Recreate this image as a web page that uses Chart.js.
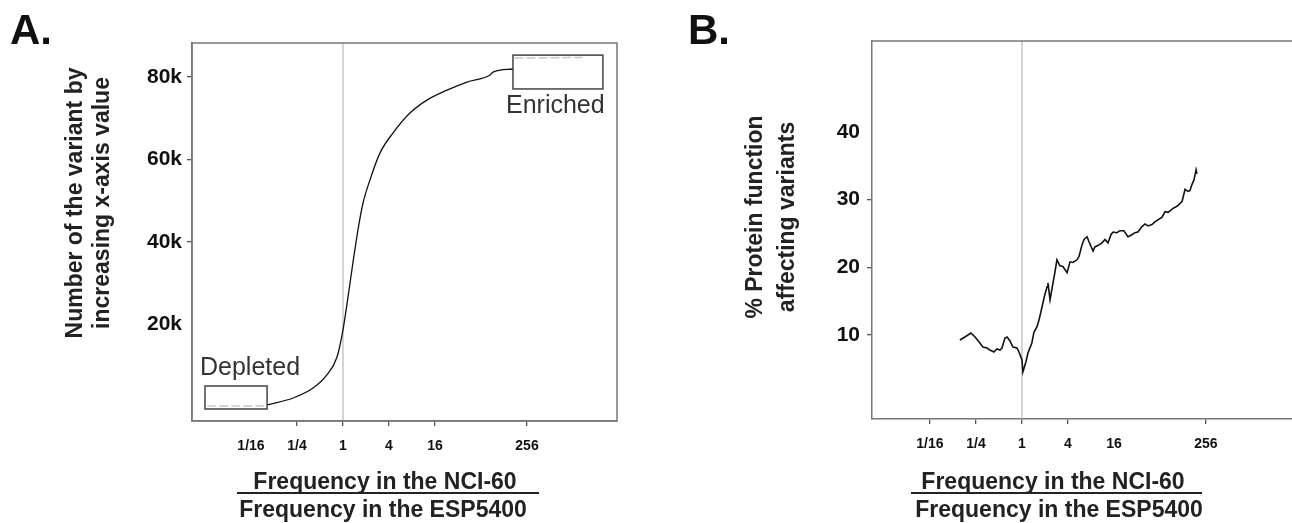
<!DOCTYPE html>
<html>
<head>
<meta charset="utf-8">
<script src="https://cdn.jsdelivr.net/npm/chart.js@4.4.1/dist/chart.umd.min.js"></script>
<style>
  html, body { margin: 0; padding: 0; background: #fff; }
  body { width: 1292px; height: 523px; overflow: hidden; position: relative; }
  .wrap { position: absolute; top: 0; height: 523px; }
  #wrapA { left: 0; width: 640px; }
  #wrapB { left: 660px; width: 632px; }
</style>
</head>
<body>
<div class="wrap" id="wrapA"><canvas id="chartA" width="640" height="523"></canvas></div>
<div class="wrap" id="wrapB"><canvas id="chartB" width="632" height="523"></canvas></div>
<script>
// x axis is log2(NCI-60 freq / ESP5400 freq)
xTickPos = [-4, -2, 0, 2, 4, 8];
xTickLabels = ['1/16', '1/4', '1', '4', '16', '256'];

// panel A: cumulative number of variants
aLog2Ratio = [-3.30, -2.17, -1.30, -0.70, -0.26, 0, 0.22, 0.43, 0.65, 0.87, 1.17, 1.61, 2.17, 2.91, 3.65, 4.52, 5.39, 6.39, 6.52, 7.39];
aCount = [485, 2180, 4600, 7760, 12100, 18700, 26700, 34900, 42900, 49450, 55000, 61600, 66400, 71270, 74400, 76800, 78770, 80500, 81200, 81940];
aDepletedX = [-5.9, -5.2, -4.6, -4.0, -3.35];
aDepletedY = [250, 250, 260, 260, 280];
aEnrichedX = [7.45, 8.2, 9.0, 9.8, 10.4];
aEnrichedY = [84600, 84600, 84650, 84700, 84700];
aYTickPos = [20000, 40000, 60000, 80000];
aYTickLabels = ['20k', '40k', '60k', '80k'];

// panel B: % protein function affecting variants
bLog2Ratio = [-2.70, -2.48, -2.22, -2.04, -1.83, -1.70, -1.52, -1.39, -1.22, -1.09, -0.96, -0.87, -0.74, -0.65, -0.52, -0.39, -0.22, -0.13, 0, 0.04,
  0.17, 0.26, 0.43, 0.52, 0.65, 0.74, 0.87, 0.96, 1.09, 1.13, 1.22, 1.35, 1.43, 1.52, 1.65, 1.78, 1.96, 2.09, 2.22, 2.39,
  2.48, 2.61, 2.70, 2.83, 2.91, 3.09, 3.17, 3.30, 3.48, 3.61, 3.74, 3.87, 3.96, 4.13, 4.26, 4.43, 4.61, 4.78, 4.91, 5.04,
  5.22, 5.35, 5.48, 5.65, 5.78, 5.91, 6.09, 6.22, 6.35, 6.57, 6.74, 6.96, 7.09, 7.22, 7.30, 7.39, 7.48, 7.57, 7.61];
bPercent = [9.27, 9.70, 10.3, 9.70, 8.82, 8.23, 8.08, 7.78, 7.49, 7.93, 7.78, 8.08, 9.56, 9.70, 9.11, 8.23, 8.08, 7.49, 6.31, 4.54,
  6.02, 7.35, 8.82, 10.4, 11.2, 12.2, 14.1, 15.5, 17.1, 17.7, 15.2, 17.7, 19.2, 21.1, 20.2, 20.1, 19.2, 20.8, 20.7, 21.1,
  21.6, 23.3, 24.1, 24.5, 23.8, 22.4, 23.0, 23.2, 23.6, 24.1, 23.6, 24.8, 25.2, 25.1, 25.4, 25.4, 24.5, 24.8, 25.1, 25.2,
  26.0, 26.4, 26.1, 26.3, 26.7, 27.0, 27.4, 28.2, 28.1, 28.7, 29.0, 29.7, 31.5, 31.2, 31.3, 32.2, 32.9, 34.4, 33.8];
bYTickPos = [10, 20, 30, 40];
bYTickLabels = ['10', '20', '30', '40'];

Chart.defaults.font.family = "'Liberation Sans', Arial, sans-serif";
Chart.defaults.color = '#111';
Chart.defaults.animation = false;

function pts(xs, ys) {
    return xs.map((x, i) => ({x: x, y: ys[i]}));
}

// hide the tick mark for one value (the original skips some)
function tickColor(skip) {
    return (ctx) => (ctx.tick && ctx.tick.value === skip) ? 'rgba(0,0,0,0)' : '#555';
}

function xAxis(min, max, height, skip) {
    return {
        type: 'linear', min: min, max: max,
        afterBuildTicks: (s) => { s.ticks = xTickPos.map(v => ({value: v})); },
        afterFit: (s) => { s.height = height; },
        ticks: {
            autoSkip: false, maxRotation: 0, padding: 12,
            font: {size: 14, weight: 'bold'},
            callback: (v) => xTickLabels[xTickPos.indexOf(v)]
        },
        grid: {drawOnChartArea: false, tickLength: 5, color: tickColor(skip), lineWidth: 1.3},
        border: {display: true, color: '#777', width: 1.5}
    };
}

function yAxis(min, max, width, pos, labels, skip, pad) {
    return {
        type: 'linear', min: min, max: max,
        afterBuildTicks: (s) => { s.ticks = pos.map(v => ({value: v})); },
        afterFit: (s) => { s.width = width; },
        ticks: {
            autoSkip: false, padding: pad,
            font: {size: 21, weight: 'bold'},
            callback: (v) => labels[pos.indexOf(v)]
        },
        grid: {drawOnChartArea: false, tickLength: 5, color: tickColor(skip), lineWidth: 1.3},
        border: {display: true, color: '#777', width: 1.5}
    };
}

// text, frame, vertical line at ratio 1, boxes
function panelPlugin(cfg) {
    return {
        id: 'panel' + cfg.letter,
        beforeDatasetsDraw(chart) {
            const c = chart.ctx, a = chart.chartArea;
            const x1 = chart.scales.x.getPixelForValue(0);
            c.save();
            c.strokeStyle = '#aaa';
            c.lineWidth = 1;
            c.beginPath();
            c.moveTo(x1, a.top);
            c.lineTo(x1, a.bottom);
            c.stroke();
            c.restore();
        },
        afterDraw(chart) {
            const c = chart.ctx, a = chart.chartArea;
            const sx = chart.scales.x, sy = chart.scales.y;
            c.save();
            // frame
            c.strokeStyle = '#777';
            c.lineWidth = 1.5;
            c.beginPath();
            if (cfg.fullFrame) {
                c.rect(a.left, a.top, a.right - a.left, a.bottom - a.top);
            } else {
                c.moveTo(a.left, a.top);
                c.lineTo(chart.width, a.top);
            }
            c.stroke();

            // annotation boxes
            (cfg.boxes || []).forEach(b => {
                const l = sx.getPixelForValue(b.x0), r = sx.getPixelForValue(b.x1);
                const t = sy.getPixelForValue(b.y1), btm = sy.getPixelForValue(b.y0);
                c.strokeStyle = '#444';
                c.lineWidth = 1.5;
                c.strokeRect(l, t, r - l, btm - t);
                c.fillStyle = '#333';
                c.font = "25px 'Liberation Sans', Arial, sans-serif";
                c.textAlign = 'left';
                c.textBaseline = 'alphabetic';
                c.fillText(b.label, b.tx, b.ty);
            });

            // panel letter
            c.fillStyle = '#111';
            c.font = "bold 42px 'Liberation Sans', Arial, sans-serif";
            c.textAlign = 'left';
            c.fillText(cfg.letter + '.', cfg.letterX, 44);

            // y title (two lines, rotated)
            c.font = "bold 23px 'Liberation Sans', Arial, sans-serif";
            c.fillStyle = '#222';
            c.textAlign = 'center';
            c.textBaseline = 'middle';
            cfg.yTitle.forEach((line, i) => {
                c.save();
                c.translate(cfg.yTitleX[i], cfg.yTitleY);
                c.rotate(-Math.PI / 2);
                c.fillText(line, 0, 0);
                c.restore();
            });

            // x title as a fraction
            c.textBaseline = 'alphabetic';
            c.fillText('Frequency in the NCI-60', cfg.numX, 489);
            c.fillText('Frequency in the ESP5400', cfg.denX, 517);
            c.strokeStyle = '#222';
            c.lineWidth = 2;
            c.beginPath();
            c.moveTo(cfg.barX0, 493);
            c.lineTo(cfg.barX1, 493);
            c.stroke();
            c.restore();
        }
    };
}

var chartA = new Chart(document.getElementById('chartA'), {
    type: 'line',
    data: {
        datasets: [
            {data: pts(aLog2Ratio, aCount), borderColor: '#111', borderWidth: 1.3, pointRadius: 0, cubicInterpolationMode: 'monotone'},
            {data: pts(aDepletedX, aDepletedY), borderColor: '#c8c8c8', borderWidth: 1.5, borderDash: [9, 3], pointRadius: 0},
            {data: pts(aEnrichedX, aEnrichedY), borderColor: '#c8c8c8', borderWidth: 1.5, borderDash: [9, 3], pointRadius: 0}
        ]
    },
    options: {
        responsive: false,
        layout: {padding: {top: 43, right: 23, left: 0, bottom: 0}},
        plugins: {legend: {display: false}, tooltip: {enabled: false}},
        scales: {
            x: xAxis(-6.565, 11.913, 102, -4),
            y: yAxis(-3400, 88240, 192, aYTickPos, aYTickLabels, 20000, 5)
        }
    },
    plugins: [panelPlugin({
        letter: 'A', letterX: 10, fullFrame: true,
        yTitle: ['Number of the variant by', 'increasing x-axis value'], yTitleX: [76, 103], yTitleY: 203,
        numX: 385, denX: 383, barX0: 237, barX1: 539,
        boxes: [
            {x0: -6.0, x1: -3.30, y0: -485, y1: 5090, label: 'Depleted', tx: 200, ty: 375},
            {x0: 7.39, x1: 11.30, y0: 77100, y1: 85300, label: 'Enriched', tx: 506, ty: 113}
        ]
    })]
});

var chartB = new Chart(document.getElementById('chartB'), {
    type: 'line',
    data: {
        datasets: [
            {data: pts(bLog2Ratio, bPercent), borderColor: '#111', borderWidth: 1.6, pointRadius: 0, tension: 0}
        ]
    },
    options: {
        responsive: false,
        layout: {padding: {top: 41, right: 0, left: 0, bottom: 0}},
        plugins: {legend: {display: false}, tooltip: {enabled: false}},
        scales: {
            x: xAxis(-6.52, 11.74, 104, 4),
            y: yAxis(-2.4, 53.4, 212, bYTickPos, bYTickLabels, 40, 7)
        }
    },
    plugins: [panelPlugin({
        letter: 'B', letterX: 28, fullFrame: false,
        yTitle: ['% Protein function', 'affecting variants'], yTitleX: [96, 128], yTitleY: 217,
        numX: 393, denX: 399, barX0: 251, barX1: 542
    })]
});
</script>
</body>
</html>
